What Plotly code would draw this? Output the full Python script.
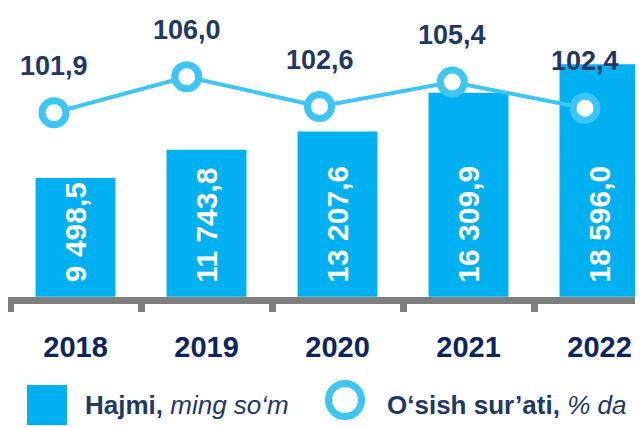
import plotly.graph_objects as go

years = ["2018", "2019", "2020", "2021", "2022"]
volume = [9498.5, 11743.8, 13207.6, 16309.9, 18596.0]  # Hajmi, ming so'm
growth = [101.9, 106.0, 102.6, 105.4, 102.4]  # O'sish sur'ati, % da

BAR_BLUE = "#00B0F0"
LINE_BLUE = "#3DC6F5"
NAVY = "#1F3864"
AXIS_GREY = "#7F7F7F"
FONT = "Liberation Sans, Arial, sans-serif"


def fmt(v, decimals=1):
    # 13207.6 -> "13 207,6"
    s = f"{v:,.{decimals}f}"
    return s.replace(",", " ").replace(".", ",")


def main():
    fig = go.Figure()

    fig.add_trace(
        go.Bar(
            x=years,
            y=volume,
            marker=dict(color=BAR_BLUE, line=dict(width=0)),
            width=0.61,
            showlegend=False,
            hoverinfo="skip",
        )
    )
    fig.add_trace(
        go.Scatter(
            x=list(range(len(years))),
            y=growth,
            xaxis="x2",
            yaxis="y2",
            mode="lines+markers",
            line=dict(color=LINE_BLUE, width=4),
            marker=dict(size=24, color="white", line=dict(color=LINE_BLUE, width=7)),
            showlegend=False,
            hoverinfo="skip",
        )
    )

    annotations = []
    # values written inside the bars, bottom to top
    for i, v in enumerate(volume):
        annotations.append(
            dict(
                x=i, y=0, xref="x", yref="y",
                text=f"<b>{fmt(v)}</b>",
                textangle=-90,
                xanchor="center", yanchor="bottom",
                yshift=12,
                showarrow=False,
                font=dict(family=FONT, size=30, color="white"),
            )
        )
    # growth labels above the markers
    for i, g in enumerate(growth):
        annotations.append(
            dict(
                x=i, y=g, xref="x2", yref="y2",
                text=f"<b>{fmt(g)}</b>",
                xanchor="center", yanchor="bottom",
                yshift=30,
                showarrow=False,
                font=dict(family=FONT, size=27, color=NAVY),
            )
        )
    # hand-made legend
    annotations.append(
        dict(
            x=0.1181, y=-0.3737, xref="paper", yref="paper",
            text="<b>Hajmi,</b> <i>ming so‘m</i>",
            xanchor="left", yanchor="middle", showarrow=False,
            font=dict(family=FONT, size=26, color=NAVY),
        )
    )
    annotations.append(
        dict(
            x=0.5937, y=-0.3737, xref="paper", yref="paper",
            text="<b>O‘sish sur’ati,</b> <i>% da</i>",
            xanchor="left", yanchor="middle", showarrow=False,
            font=dict(family=FONT, size=26, color=NAVY),
        )
    )

    shapes = [
        dict(
            type="rect", xref="paper", yref="paper",
            x0=0.0299, x1=0.0929, y0=-0.3045, y1=-0.4429,
            fillcolor=BAR_BLUE, line=dict(width=0),
        ),
        dict(
            type="circle", xref="paper", yref="paper",
            x0=0.5047, x1=0.5567, y0=-0.2993, y1=-0.4135,
            fillcolor="white", line=dict(color=LINE_BLUE, width=7),
        ),
    ]

    # the page body adds an 8px margin, so the figure is 8px smaller
    fig.update_layout(
        width=635,
        height=419,
        margin=dict(l=0, r=0, t=0, b=130, autoexpand=False),
        paper_bgcolor="white",
        plot_bgcolor="white",
        bargap=0.39,
        showlegend=False,
        annotations=annotations,
        shapes=shapes,
        xaxis=dict(
            type="category",
            range=[-0.5153, 4.3321],
            automargin=False,
            showline=True,
            linecolor=AXIS_GREY,
            linewidth=7,
            ticks="outside",
            tickson="boundaries",
            ticklen=8,
            tickwidth=7,
            tickcolor=AXIS_GREY,
            showgrid=False,
            zeroline=False,
            tickvals=years,
            ticktext=[f"<b>{y}</b>" for y in years],
            tickfont=dict(family=FONT, size=29, color="#0D2463"),
            ticklabelstandoff=18,
        ),
        xaxis2=dict(
            overlaying="x",
            range=[-0.3465, 4.4369],
            visible=False,
        ),
        yaxis=dict(
            range=[-30, 23090],
            visible=False,
            automargin=False,
            showgrid=False,
            zeroline=False,
        ),
        yaxis2=dict(
            overlaying="y",
            range=[80.91, 113.825],
            visible=False,
            showgrid=False,
            zeroline=False,
        ),
    )

    fig.write_html("out.html")


if __name__ == "__main__":
    main()
